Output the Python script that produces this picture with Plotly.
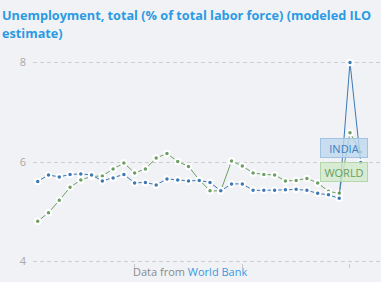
import plotly.graph_objects as go

years = list(range(1991, 2022))
india = [5.61, 5.74, 5.70, 5.75, 5.76, 5.74, 5.62, 5.68, 5.75, 5.58,
         5.59, 5.54, 5.66, 5.64, 5.62, 5.63, 5.59, 5.42, 5.56, 5.56,
         5.43, 5.43, 5.43, 5.44, 5.45, 5.43, 5.37, 5.34, 5.27, 8.00, 5.99]
world = [4.81, 4.98, 5.23, 5.49, 5.64, 5.71, 5.72, 5.86, 5.98, 5.78,
         5.86, 6.08, 6.17, 6.01, 5.91, 5.64, 5.42, 5.42, 6.02, 5.92,
         5.78, 5.75, 5.74, 5.62, 5.63, 5.67, 5.58, 5.41, 5.37, 6.59, 6.20]
y_ticks = [4, 6, 8]
x_ticks = [2000, 2010, 2020]
title_lines = ["Unemployment, total (% of total labor force) (modeled ILO", "estimate)"]

BLUE = "#3b78b4"
GREEN = "#6c9f63"
BG = "#f1f2f6"

fig = go.Figure()
for name, vals, col in [("World", world, GREEN), ("India", india, BLUE)]:
    fig.add_trace(go.Scatter(
        x=years, y=vals, mode="lines+markers", name=name,
        line=dict(color=col, width=1),
        marker=dict(size=5.5, color=col, line=dict(color="white", width=2)),
        cliponaxis=False, showlegend=False))

fig.update_layout(
    width=381, height=282, margin=dict(l=33, r=0, t=61, b=19),
    paper_bgcolor=BG, plot_bgcolor=BG,
    font=dict(family="Open Sans", color="#9a9a9a", size=11),
    xaxis=dict(range=[1990.56, 2022.88], tickvals=x_ticks, showticklabels=False,
               ticks="outside", ticklen=4, tickcolor="#c8c8cc", showgrid=False,
               zeroline=False, showline=False),
    yaxis=dict(range=[3.97, 8.03], tickvals=y_ticks, showgrid=True, gridcolor="#cdcdd2",
               griddash="4px,3px", gridwidth=1, zeroline=False, ticks="",
               ticklabelstandoff=6, tickfont=dict(size=11, color="#a8a8a8")),
    showlegend=False,
)

fig.add_annotation(xref="paper", yref="paper", x=-33/348, y=1 + (61-4)/202,
                   xanchor="left", yanchor="top", showarrow=False,
                   text="<b>" + title_lines[0] + "</b>",
                   font=dict(family="Open Sans", size=12.7, color="#2a9be2"))
fig.add_annotation(xref="paper", yref="paper", x=-33/348, y=1 + (61-22)/202,
                   xanchor="left", yanchor="top", showarrow=False,
                   text="<b>" + title_lines[1] + "</b>",
                   font=dict(family="Open Sans", size=12.7, color="#2a9be2"))

# series labels
fig.add_annotation(x=2019.44, y=6.29, text="INDIA", showarrow=False,
                   font=dict(family="Open Sans", size=11, color="#3c7fc0"),
                   bgcolor="rgba(190,215,238,0.8)", bordercolor="#a2c2e2",
                   borderwidth=1, borderpad=0, width=46, height=18)
fig.add_annotation(x=2019.44, y=5.80, text="WORLD", showarrow=False,
                   font=dict(family="Open Sans", size=11, color="#66a05a"),
                   bgcolor="rgba(210,232,202,0.8)", bordercolor="#b5d6aa",
                   borderwidth=1, borderpad=0, width=46, height=18)

fig.add_annotation(xref="paper", yref="paper", x=(190-33)/348, y=-(271-263)/202,
                   xanchor="center", yanchor="middle", showarrow=False,
                   text='Data from <span style="color:#3a9be0">World Bank</span>',
                   font=dict(family="Open Sans", size=11, color="#8a8a8a"))

fig.write_html("out.html")
